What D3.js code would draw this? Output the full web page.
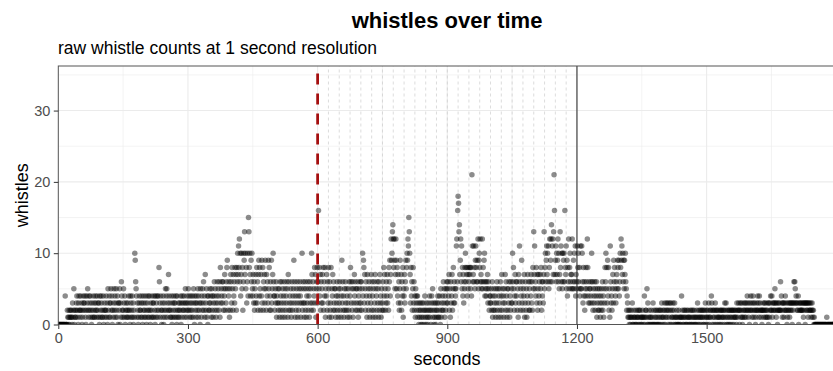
<!DOCTYPE html>
<html><head><meta charset="utf-8">
<script src="https://cdn.jsdelivr.net/npm/d3@7"></script>
<style>
body{margin:0;background:#fff}
svg{display:block}
text{font-family:"Liberation Sans",Arial,Helvetica,sans-serif}
</style>
</head><body>
<svg id="chart" width="833" height="371"></svg>
<script>
// ---- text ----
const chartTitle = "whistles over time";
const chartSubtitle = "raw whistle counts at 1 second resolution";
const xTitle = "seconds";
const yTitle = "whistles";

// ---- axes ----
const xTicks = [0, 300, 600, 900, 1200, 1500];
const xMinor = [150, 450, 750, 1050, 1350, 1650];
const yTicks = [0, 10, 20, 30];
const yMinor = [5, 15, 25, 35];
const xDomain = [0, 1800];
const yDomain = [0, 36.25];

// ---- reference lines ----
const startLine = 600;     // red dashed
const endLine = 1200;      // solid black
const guideLines = [625,650,675,700,725,750,775,800,825,850,875,900,925,950,975,1000,1025,1050,1075,1100,1125,1150,1175];

// ---- whistle counts, one base-36 digit per second ----
const counts0000 =
 "0000000000"+"0000004000"+"0210120121"+"2103125021"+"1234210342"+"2142301243"+"3241024352"+"1423412031"+"2413124321"+"4231304124"+
 "3121402312"+"2413052143"+"1352402135"+"2413521403"+"3250316421"+"2531402312"+"1324120431"+"2413021a96"+"5413201342"+"2134103241"+
 "2314023142"+"1420312413"+"3142041324"+"1428631420"+"2314023152"+"4513274231"+"2140312431"+"3241042132"+"1324031423"+"2413523142";
const counts0300 =
 "3524132413"+"2415304231"+"4325142305"+"3142536241"+"7325140423"+"2534152413"+"4625314263"+"5426183546"+"3625472536"+"8952461527"+
 "6385274638"+"57286a7b8c"+"6a47a5826a"+"9d7a5836a4"+"fd8a7496a5"+"4736253748"+"3627948527"+"4938265739"+"5274639582"+"4629357a64"+
 "4253614352"+"3516243615"+"2436152436"+"5172634251"+"3624593614"+"2536142536"+"4153a26351"+"3625143625"+"416352a736"+"2548371568";
const counts0600 =
 "36g5847263"+"5738264815"+"4726385162"+"3815472635"+"2514362415"+"3625149362"+"4152635241"+"3526148635"+"2615374625"+"3526143526"+
 "3625a49837"+"5264173526"+"4153726415"+"2637154263"+"5162734152"+"3628475236"+"4735286947"+"c9adec8c95"+"7c95847362"+"5937264815"+
 "4736958a9c"+"bfda738462"+"5836241534"+"2413021320"+"1302130241"+"2031201324"+"1203425130"+"2130213241"+"3142051324"+"2635142536";
const counts0900 =
 "5364725163"+"4725836354"+"5bc6gihde7"+"9c6b584736"+"58a6874857"+"6878584lb6"+"7b6859b869"+"6c59a8c675"+"6c5869a465"+"4657365243"+
 "4352614253"+"2415362514"+"3526147253"+"4153726415"+"2536142635"+"3a68524736"+"4625173b62"+"5493625471"+"3625147362"+"5264736285"+
 "d7b5648372"+"5746375826"+"4637d58a69"+"b7a6b58c69"+"ce6bc7dlg7"+"9b6a79c6a5"+"7d8b6a5a69"+"a6g87b5948"+"6c58a6757c"+"5695a6b475";
const counts1200 =
 "6b8a6584b5"+"5ba6384625"+"4865c84365"+"3546a36254"+"3625461352"+"4253142536"+"2415386a58"+"3948251b63"+"4257396854"+"3675985946"+
 "a8c9b7a695"+"97a6524312"+"1021012130"+"0121010201"+"1201202101"+"0121014012"+"2150301201"+"0120103020"+"1021020102"+"0120213012"+
 "1023012312"+"3021302301"+"2130213010"+"1201002101"+"0141201021"+"2010201210"+"1021020120"+"1201010213"+"0120121021"+"2102012301";
const counts1500 =
 "2102130121"+"2430212012"+"3021201210"+"1202120121"+"2031230120"+"1202102120"+"2120121210"+"3212320231"+"2310123213"+"2132423120"+
 "3242312431"+"2320123242"+"3142321202"+"2312321321"+"2130312342"+"2413232352"+"3132023232"+"2624313231"+"3242320132"+"2313232303"+
 "2363653432"+"3240323232"+"2323132303"+"3232313232"+"2312321201"+"0000000000"+"0000000000"+"0000000010"+"0000000000"+"0000000000";

const countStrings = [counts0000, counts0300, counts0600, counts0900, counts1200, counts1500];
const data = countStrings.join("").split("").map((c, i) => ({ second: i, whistles: parseInt(c, 36) }));

// ---- drawing ----
const svg = d3.select("#chart");
const panel = { left: 58.3, right: 836.3, top: 66, bottom: 324.5 };
const x = d3.scaleLinear().domain(xDomain).range([panel.left, panel.right]);
const y = d3.scaleLinear().domain(yDomain).range([panel.bottom, panel.top]);

svg.append("rect").attr("width", 833).attr("height", 371).attr("fill", "#fff");

svg.append("defs").append("clipPath").attr("id", "clip")
  .append("rect").attr("x", panel.left).attr("y", panel.top)
  .attr("width", panel.right - panel.left).attr("height", panel.bottom - panel.top);

const g = svg.append("g").attr("clip-path", "url(#clip)");

// grid
g.selectAll(".gxm").data(xMinor).join("line")
  .attr("x1", d => x(d)).attr("x2", d => x(d)).attr("y1", panel.top).attr("y2", panel.bottom)
  .attr("stroke", "#ebebeb").attr("stroke-width", 0.6);
g.selectAll(".gym").data(yMinor).join("line")
  .attr("y1", d => y(d)).attr("y2", d => y(d)).attr("x1", panel.left).attr("x2", panel.right)
  .attr("stroke", "#ebebeb").attr("stroke-width", 0.6);
g.selectAll(".gx").data(xTicks).join("line")
  .attr("x1", d => x(d)).attr("x2", d => x(d)).attr("y1", panel.top).attr("y2", panel.bottom)
  .attr("stroke", "#ebebeb").attr("stroke-width", 1.1);
g.selectAll(".gy").data(yTicks).join("line")
  .attr("y1", d => y(d)).attr("y2", d => y(d)).attr("x1", panel.left).attr("x2", panel.right)
  .attr("stroke", "#ebebeb").attr("stroke-width", 1.1);

// grey dashed guides
g.selectAll(".guide").data(guideLines).join("line")
  .attr("x1", d => x(d)).attr("x2", d => x(d)).attr("y1", panel.bottom).attr("y2", panel.top)
  .attr("stroke", "#c4c4c4").attr("stroke-width", 0.6).attr("stroke-dasharray", "3,3");

// points
g.selectAll(".pt").data(data).join("circle")
  .attr("cx", d => x(d.second)).attr("cy", d => y(d.whistles)).attr("r", 2.75)
  .attr("fill", "#000").attr("fill-opacity", 0.45);

// red dashed start line
g.append("line")
  .attr("x1", x(startLine)).attr("x2", x(startLine)).attr("y1", panel.bottom).attr("y2", panel.top)
  .attr("stroke", "#a50f0f").attr("stroke-width", 2.8).attr("stroke-dasharray", "11,9");
// black end line
g.append("line")
  .attr("x1", x(endLine)).attr("x2", x(endLine)).attr("y1", panel.bottom).attr("y2", panel.top)
  .attr("stroke", "#222").attr("stroke-width", 1);

// panel border
svg.append("rect").attr("x", panel.left).attr("y", panel.top)
  .attr("width", panel.right - panel.left).attr("height", panel.bottom - panel.top)
  .attr("fill", "none").attr("stroke", "#555").attr("stroke-width", 1);

// axes
const xAxis = svg.append("g").attr("transform", `translate(0,${panel.bottom})`)
  .call(d3.axisBottom(x).tickValues(xTicks).tickSize(4.5).tickPadding(3.5).tickFormat(d3.format("d")));
const yAxis = svg.append("g").attr("transform", `translate(${panel.left},0)`)
  .call(d3.axisLeft(y).tickValues(yTicks).tickSize(4.5).tickPadding(3.5).tickFormat(d3.format("d")));
[xAxis, yAxis].forEach(a => {
  a.select(".domain").remove();
  a.selectAll(".tick line").attr("stroke", "#333").attr("stroke-width", 1);
  a.selectAll(".tick text").attr("fill", "#4d4d4d").style("font-size", "14.5px")
    .style("font-family", '"Liberation Sans",Arial,sans-serif');
});

// titles
svg.append("text").attr("x", 447).attr("y", 28).attr("text-anchor", "middle")
  .style("font-size", "22px").style("font-weight", "bold").attr("fill", "#000").text(chartTitle);
svg.append("text").attr("x", 58).attr("y", 54)
  .style("font-size", "17.5px").attr("fill", "#000").text(chartSubtitle);
svg.append("text").attr("x", 447).attr("y", 365).attr("text-anchor", "middle")
  .style("font-size", "18px").attr("fill", "#000").text(xTitle);
svg.append("text").attr("transform", `translate(27.5,${(panel.top + panel.bottom) / 2}) rotate(-90)`)
  .attr("text-anchor", "middle").style("font-size", "18px").attr("fill", "#000").text(yTitle);
</script>
</body></html>
